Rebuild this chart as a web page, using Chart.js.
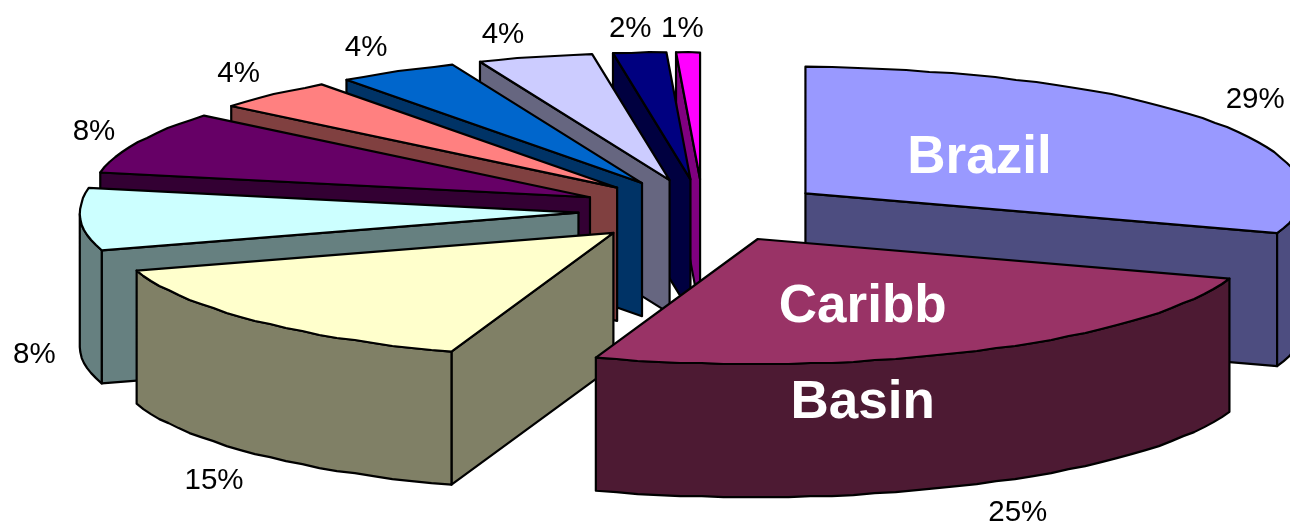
<!DOCTYPE html>
<html>
<head>
<meta charset="utf-8">
<title>Exploded 3D pie</title>
<script src="https://cdn.jsdelivr.net/npm/chart.js@4"></script>
<style>
  html, body { margin: 0; padding: 0; background: #fff; overflow: hidden; }
  #wrap { width: 1290px; height: 522px; position: relative; }
</style>
</head>
<body>
<div id="wrap"><canvas id="pie" role="img" aria-label="Exploded three-dimensional pie chart of shares by region"></canvas></div>
<script>
// Slice names and shares, clockwise from twelve o'clock.
const categories = ['Brazil', 'Caribb Basin', '', '', '', '', '', '', '', ''];
const shares = [29, 25, 15, 8, 8, 4, 4, 4, 2, 1];
const topColors = ['#9999FF', '#993366', '#FFFFCC', '#CCFFFF', '#660066', '#FF8080', '#0066CC', '#CCCCFF', '#000080', '#FF00FF'];
const wallColors = ['#4D4D80', '#4D1A33', '#808066', '#668080', '#330033', '#804040', '#003366', '#666680', '#000040', '#800080'];

// Painter's order: far slices first, the two big front ones bracket the fan.
const paintOrder = [0, 9, 8, 7, 6, 5, 4, 3, 2, 1];

// Percent label offsets from the middle of each slice's outer rim, in pixels.
const percentNudge = [[40, -23], [41, 162], [-41, 160], [-46, 135], [-44, -10], [-35, -21], [-32, -23], [-33, -22], [-10, -24], [-6, -24]];
// Name label offsets from each slice's hub; one entry per word.
const nameNudge = { 0: [[174, -35]], 1: [[105, 68], [105, 164]] };

const view = {
  spreadX: 2.39,    // horizontal stretch of the disc, in radii
  spreadY: 0.60,    // vertical squash of the disc
  farRise: 1.015,   // the far half reaches slightly higher
  shearX: 0.19,     // sideways lean from far to near
  farLean: 0.7,     // the far half of the disc leans less
  shearY: 0.043,    // downward tilt from left to right
  depth: 0.64,      // extrusion height
  explode: 0.25,    // how far every slice leaves the centre
  stepDeg: 2.5,     // rim sampling
  rimSnap: 1        // rim vertices sit on whole pixels, giving a plotter-like edge
};

// Maps a direction and radial fraction on the disc to a screen offset.
function project(theta, radius, frac) {
  const X = Math.sin(theta), Y = Math.cos(theta);
  const ax = Math.abs(X);
  const lean = Y < 0 ? Y : view.farLean * Y * Math.min(1, 1.5 * ax / (ax + 0.3));
  const rise = Y < 0 ? Y : view.farRise * Y;
  return {
    x: frac * radius * (view.spreadX * X + view.shearX * lean),
    y: frac * radius * (-view.spreadY * rise + view.shearY * X)
  };
}

function tracePath(ctx, pts) {
  ctx.beginPath();
  pts.forEach((p, i) => i ? ctx.lineTo(p.x, p.y) : ctx.moveTo(p.x, p.y));
  ctx.closePath();
}

// Draws the part of an edge chain that runs leftward, as one extruded wall per run.
function drawWalls(ctx, chain, h, fill) {
  let run = [];
  const flush = () => {
    if (run.length > 1) {
      const lower = run.map(p => ({ x: p.x, y: p.y + h })).reverse();
      tracePath(ctx, [...run, ...lower]);
      ctx.fillStyle = fill;
      ctx.fill();
      ctx.stroke();
    }
    run = [];
  };
  for (let k = 0; k < chain.length - 1; k++) {
    const a = chain[k], b = chain[k + 1];
    if (b.x - a.x < -0.01) {
      if (!run.length) run.push(a);
      run.push(b);
    } else {
      flush();
    }
  }
  flush();
}

const extrudedPie = {
  id: 'extrudedPie',
  beforeDatasetsDraw(chart) {
    const ctx = chart.ctx;
    const arcs = chart.getDatasetMeta(0).data;
    const snap = v => Math.round(v / view.rimSnap) * view.rimSnap;
    const geometry = arcs.map(arc => {
      const a0 = arc.startAngle + Math.PI / 2;
      const a1 = arc.endAngle + Math.PI / 2;
      const R = arc.outerRadius;
      const mid = (a0 + a1) / 2;
      const shift = project(mid, R, view.explode);
      const hub = { x: arc.x + shift.x, y: arc.y + shift.y };
      const count = Math.max(2, Math.ceil((a1 - a0) / (view.stepDeg * Math.PI / 180)));
      const rim = [];
      for (let k = 0; k <= count; k++) {
        const p = project(a0 + (a1 - a0) * k / count, R, 1);
        const ends = k === 0 || k === count;
        rim.push({
          x: hub.x + p.x,
          y: ends ? hub.y + p.y : snap(hub.y + p.y)
        });
      }
      const m = project(mid, R, 1);
      return { hub, rim, R, rimMid: { x: hub.x + m.x, y: hub.y + m.y } };
    });

    ctx.save();
    ctx.lineWidth = 2.2;
    ctx.lineJoin = 'round';
    ctx.strokeStyle = '#000';

    paintOrder.forEach(i => {
      const { hub, rim, R } = geometry[i];
      const h = view.depth * R;
      drawWalls(ctx, [rim[rim.length - 1], hub], h, wallColors[i]);
      drawWalls(ctx, [hub, rim[0]], h, wallColors[i]);
      drawWalls(ctx, rim, h, wallColors[i]);
      tracePath(ctx, [hub, ...rim]);
      ctx.fillStyle = topColors[i];
      ctx.fill();
      ctx.stroke();
    });

    // Percent labels around the fan.
    ctx.textAlign = 'center';
    ctx.textBaseline = 'middle';
    ctx.fillStyle = '#000';
    ctx.font = '29.5px "Liberation Sans", Arial, sans-serif';
    const total = shares.reduce((s, v) => s + v, 0);
    shares.forEach((v, i) => {
      const p = geometry[i].rimMid;
      ctx.fillText(Math.round(v / total * 100) + '%', p.x + percentNudge[i][0], p.y + percentNudge[i][1]);
    });

    // Slice names, one word per entry, in heavy white.
    ctx.fillStyle = '#fff';
    ctx.font = 'bold 53px "Liberation Sans", Arial, sans-serif';
    Object.keys(nameNudge).forEach(key => {
      const i = Number(key);
      categories[i].split(' ').forEach((w, n) => {
        const [dx, dy] = nameNudge[i][n];
        ctx.fillText(w, geometry[i].hub.x + dx, geometry[i].hub.y + dy);
      });
    });
    ctx.restore();
    return false;
  }
};

new Chart(document.getElementById('pie'), {
  type: 'pie',
  data: {
    labels: categories,
    datasets: [{ data: shares, backgroundColor: topColors, borderWidth: 0 }]
  },
  options: {
    responsive: true,
    maintainAspectRatio: false,
    animation: false,
    layout: { padding: { left: 116, top: 3, bottom: 103 } },
    plugins: { legend: { display: false }, tooltip: { enabled: false } }
  },
  plugins: [extrudedPie]
});
</script>
</body>
</html>
